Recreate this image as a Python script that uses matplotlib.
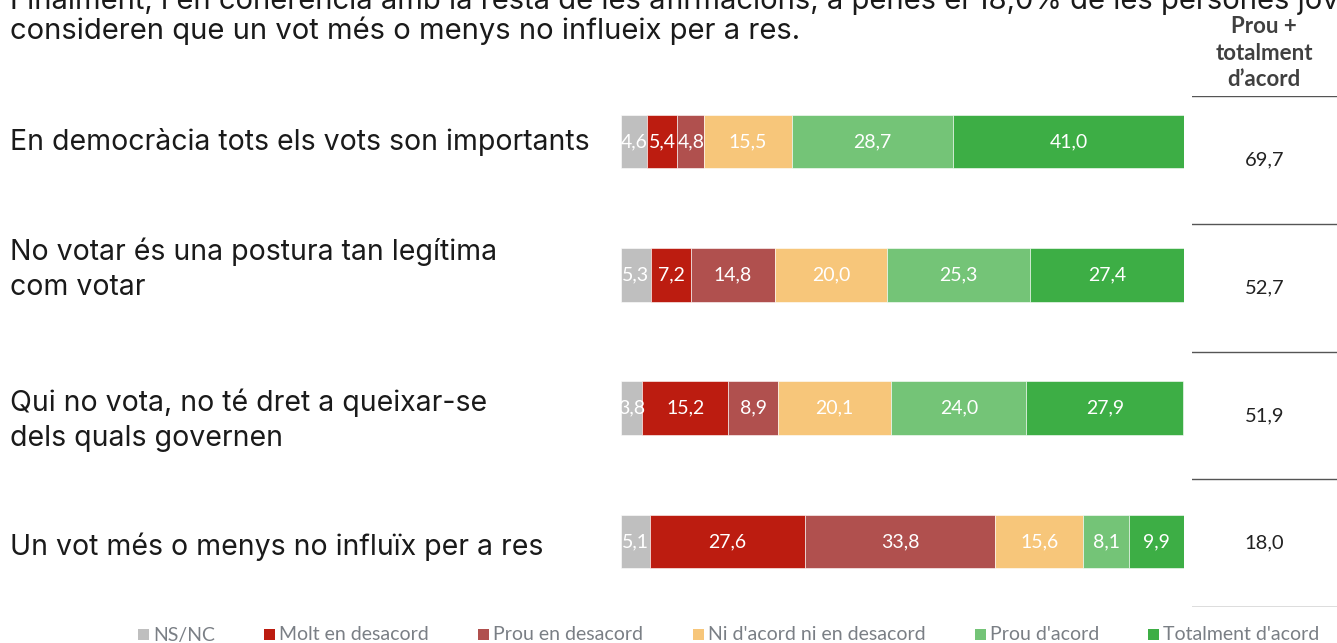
import matplotlib.pyplot as plt
from matplotlib.patches import Rectangle
from matplotlib.transforms import blended_transform_factory

# data
rows = ["En democràcia tots els vots son importants",
        "No votar és una postura tan legítima\ncom votar",
        "Qui no vota, no té dret a queixar-se\ndels quals governen",
        "Un vot més o menys no influïx per a res"]
categories = ["NS/NC", "Molt en desacord", "Prou en desacord",
              "Ni d'acord ni en desacord", "Prou d'acord", "Totalment d'acord"]
values = [[4.6, 5.4, 4.8, 15.5, 28.7, 41.0],
          [5.3, 7.2, 14.8, 20.0, 25.3, 27.4],
          [3.8, 15.2, 8.9, 20.1, 24.0, 27.9],
          [5.1, 27.6, 33.8, 15.6, 8.1, 9.9]]
agree_total = ["69,7", "52,7", "51,9", "18,0"]
colors = ["#BFBFBF", "#BC1C10", "#B0504E", "#F7C67A", "#74C477", "#3DAE45"]

W, H = 1337, 643
fig = plt.figure(figsize=(W / 100, H / 100), dpi=100)

def fx(px):
    return px / W

def fy(py):
    return 1 - py / H

txt_font = ["Inter", "DejaVu Sans"]
num_font = ["Lato", "DejaVu Sans"]

# intro text (first line is clipped at the top, as in the source)
fig.text(fx(10), fy(1), "Finalment, i en coherència amb la resta de les afirmacions, a penes el 18,0% de les persones joves",
         fontsize=21, family=txt_font, va="center", ha="left", color="#1a1a1a")
fig.text(fx(10), fy(31), "consideren que un vot més o menys no influeix per a res.",
         fontsize=21, family=txt_font, va="center", ha="left", color="#1a1a1a")

# bars
ax = fig.add_axes([fx(621), fy(608), fx(1184) - fx(621), (608 - 75) / H])
ax.set_xlim(0, 100)
ax.set_ylim(3.5, -0.5)
ax.axis("off")
label_shift = [0, -0.04, 0.09, 0.04]
row_tr = blended_transform_factory(fig.transFigure, ax.transData)
for i, vals in enumerate(values):
    left = 0
    for j, v in enumerate(vals):
        ax.barh(i, v, left=left, height=0.4, color=colors[j], edgecolor="white", linewidth=0.4)
        ax.text(left + v / 2, i, f"{v:.1f}".replace(".", ","), ha="center", va="center",
                color="white", fontsize=14, family=num_font)
        left += v
    ax.text(fx(10), i + label_shift[i], rows[i], transform=row_tr,
            ha="left", va="center", fontsize=20.5, family=txt_font, color="#1a1a1a", linespacing=1.4)

# right column
ax2 = fig.add_axes([fx(1192), fy(607), 1 - fx(1192), (607 - 96) / H])
ax2.set_xlim(0, 1)
ax2.set_ylim(3.5, -0.5)
ax2.axis("off")
for k in range(5):
    ax2.axhline(k - 0.5, color="#555555", linewidth=1)
for i, t in enumerate(agree_total):
    ax2.text(0.5, i, t, ha="center", va="center", fontsize=14.5, family=num_font, color="#222222")
fig.text(fx(1264), fy(53), "Prou +\ntotalment\nd’acord", ha="center", va="center",
         fontsize=16, fontweight="bold", family=num_font, color="#404040", linespacing=1.3,
         bbox=dict(facecolor="white", edgecolor="none", pad=1))

# legend
legend_x = [138, 264, 478, 693, 975, 1148]
for x, c, lab in zip(legend_x, colors, categories):
    fig.patches.append(Rectangle((fx(x), fy(640)), fx(11), 11 / H, transform=fig.transFigure,
                                 facecolor=c, edgecolor="none"))
    fig.text(fx(x + 15), fy(635), lab, ha="left", va="center", fontsize=14,
             family=num_font, color="#7a7f85")

fig.savefig("out.png", dpi=100)
